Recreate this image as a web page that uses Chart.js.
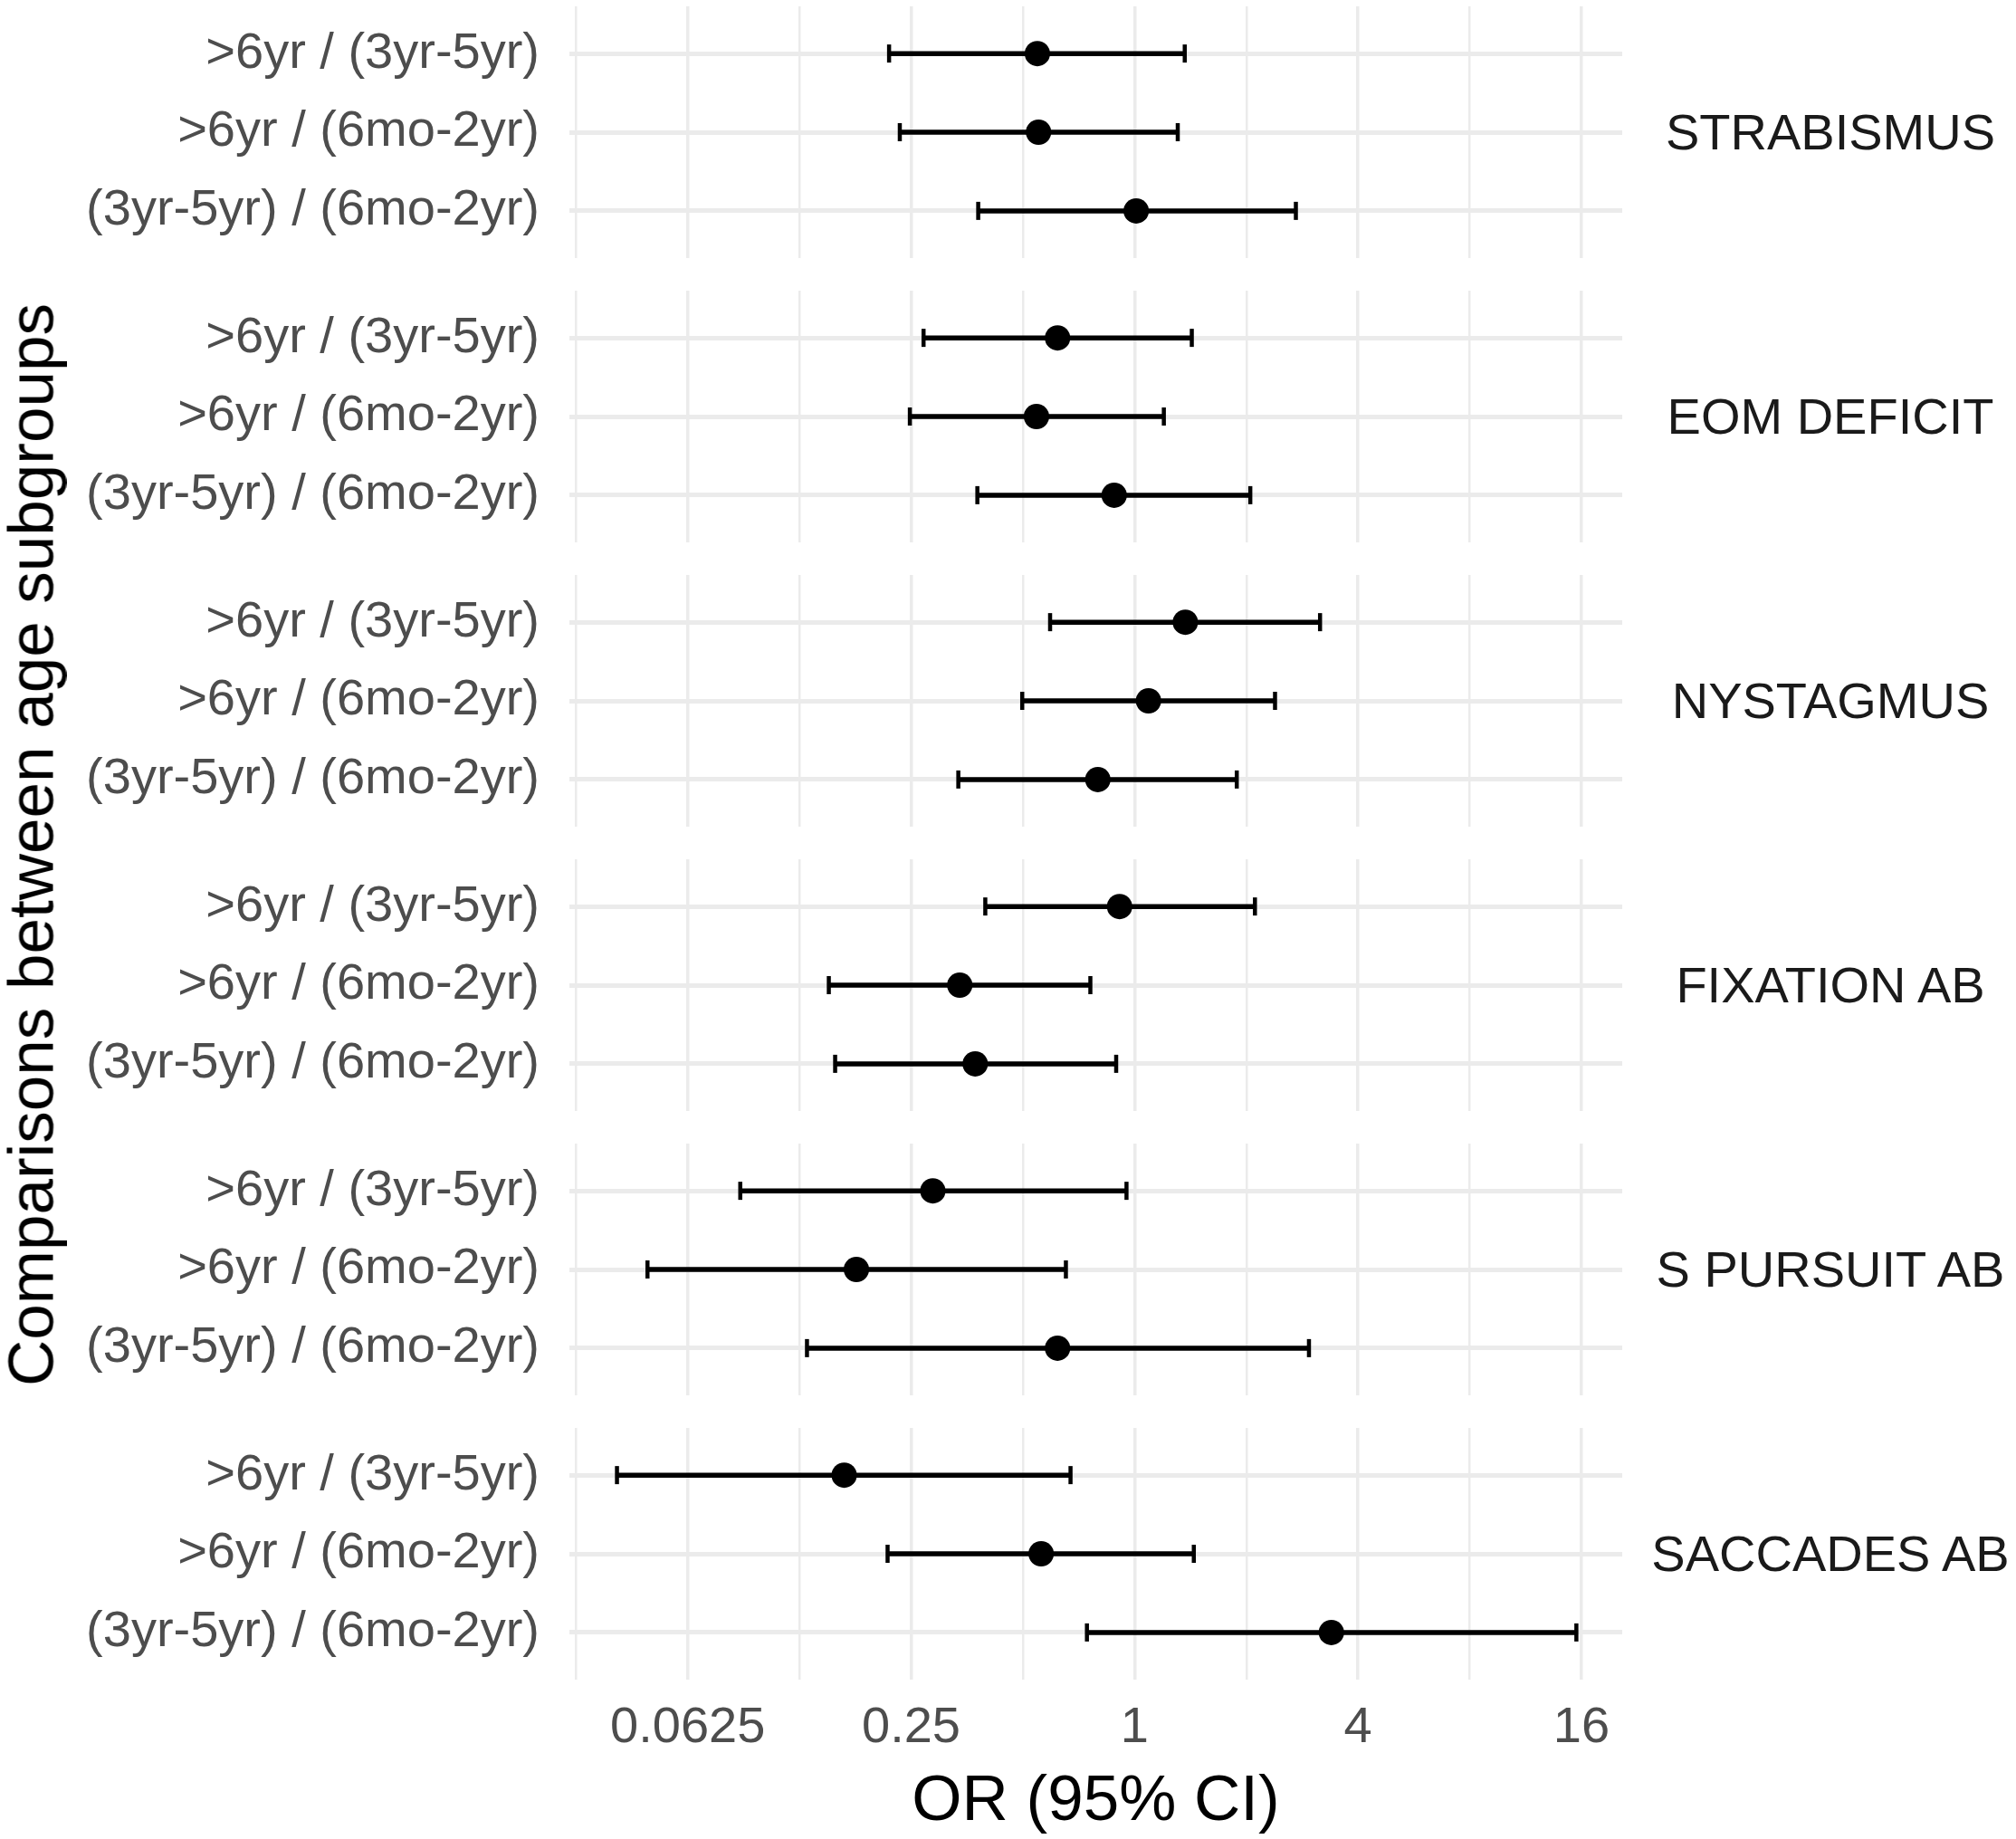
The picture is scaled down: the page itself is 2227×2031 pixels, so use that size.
<!DOCTYPE html>
<html>
<head>
<meta charset="utf-8">
<title>OR by age subgroup</title>
<script src="https://cdn.jsdelivr.net/npm/chart.js@4.4.1/dist/chart.umd.min.js"></script>
<style>
  html, body { margin: 0; padding: 0; background: #fff; }
  #page { position: relative; width: 2227px; height: 2031px; overflow: hidden;
          font-family: "Liberation Sans", Arial, sans-serif; }
  #page canvas { position: absolute; left: 0; }
  .strip { position: absolute; transform: translate(-50%, -50%); font-size: 56px;
           line-height: 1; color: #1a1a1a; white-space: nowrap; }
  .xtitle { position: absolute; transform: translate(-50%, -50%); font-size: 71px;
            line-height: 1; color: #000; white-space: nowrap; }
  .ytitle { position: absolute; transform: translate(-50%, -50%) rotate(-90deg);
            font-size: 71px; line-height: 1; color: #000; white-space: nowrap; }
</style>
</head>
<body>
<div id="page"></div>
<script>
// comparisons shown on every panel (top to bottom)
const comparisons = ['>6yr / (3yr-5yr)', '>6yr / (6mo-2yr)', '(3yr-5yr) / (6mo-2yr)'];
const outcomes = ['STRABISMUS', 'EOM DEFICIT', 'NYSTAGMUS', 'FIXATION AB', 'S PURSUIT AB', 'SACCADES AB'];

// odds ratios and 95% CI per outcome, same order as comparisons
const oddsRatio = [
  [0.547, 0.551, 1.01],
  [0.62, 0.544, 0.881],
  [1.37, 1.09, 0.796],
  [0.911, 0.338, 0.372],
  [0.286, 0.178, 0.62],
  [0.165, 0.56, 3.39]
];
const ciLow = [
  [0.218, 0.233, 0.379],
  [0.27, 0.248, 0.377],
  [0.592, 0.498, 0.335],
  [0.396, 0.150, 0.156],
  [0.0866, 0.0487, 0.131],
  [0.0403, 0.216, 0.744]
];
const ciHigh = [
  [1.365, 1.307, 2.72],
  [1.426, 1.199, 2.05],
  [3.16, 2.39, 1.885],
  [2.11, 0.76, 0.892],
  [0.951, 0.653, 2.95],
  [0.672, 1.444, 15.5]
];

const xTickValues = [0.03125, 0.0625, 0.125, 0.25, 0.5, 1, 2, 4, 8, 16];
const xTickLabels = ['', '0.0625', '', '0.25', '', '1', '', '4', '', '16'];

const W = 2227;
const plotLeft = 629, plotRight = 1792;
const panelTop = 7, panelH = 278, panelStep = 314;
const axisH = 115;
const grey = '#ebebeb';

Chart.defaults.font.family = '"Liberation Sans", Arial, sans-serif';

const page = document.getElementById('page');

// no extra room for labels that overhang the plot edges
const noPad = s => { s.paddingTop = 0; s.paddingBottom = 0; s.paddingLeft = 0; s.paddingRight = 0; };

outcomes.forEach((name, p) => {
  const isLast = p === outcomes.length - 1;
  const top = panelTop + p * panelStep;
  const canvas = document.createElement('canvas');
  canvas.width = W;
  canvas.height = panelH + (isLast ? axisH : 0);
  canvas.style.top = top + 'px';
  page.appendChild(canvas);

  const bars = comparisons.map((c, r) => ({
    type: 'line',
    data: [{ x: ciLow[p][r], y: r + 1 }, { x: ciHigh[p][r], y: r + 1 }],
    borderColor: '#000',
    borderWidth: 5.5,
    pointRadius: 0,
    clip: false,
    order: 3
  }));
  const caps = [];
  comparisons.forEach((c, r) => {
    caps.push({ x: ciLow[p][r], y: r + 1 });
    caps.push({ x: ciHigh[p][r], y: r + 1 });
  });

  new Chart(canvas, {
    type: 'scatter',
    data: {
      datasets: [
        {
          data: comparisons.map((c, r) => ({ x: oddsRatio[p][r], y: r + 1 })),
          pointRadius: 14,
          pointBackgroundColor: '#000',
          pointBorderWidth: 0,
          clip: false,
          order: 1
        },
        {
          data: caps,
          pointStyle: 'line',
          rotation: 90,
          pointRadius: 10,
          pointBorderColor: '#000',
          pointBorderWidth: 4.5,
          clip: false,
          order: 2
        },
        ...bars
      ]
    },
    options: {
      responsive: false,
      animation: false,
      devicePixelRatio: 1,
      layout: { autoPadding: false, padding: { left: 0, right: W - plotRight, top: 0, bottom: 0 } },
      plugins: { legend: { display: false }, tooltip: { enabled: false } },
      scales: {
        x: {
          type: 'logarithmic',
          min: 0.0300,
          max: 20.6,
          afterBuildTicks: s => { s.ticks = xTickValues.map(v => ({ value: v })); },
          afterFit: s => { s.height = isLast ? axisH : 0; noPad(s); },
          ticks: {
            display: isLast,
            autoSkip: false,
            maxRotation: 0,
            padding: 20,
            color: '#4d4d4d',
            font: { size: 56 },
            callback: v => xTickLabels[xTickValues.indexOf(v)] || ''
          },
          grid: {
            color: grey,
            drawTicks: false,
            lineWidth: ctx => (xTickLabels[xTickValues.indexOf(ctx.tick ? ctx.tick.value : 0)] ? 3.5 : 2.5)
          },
          border: { display: false }
        },
        y: {
          type: 'linear',
          min: 0.4,
          max: 3.6,
          reverse: true,
          afterBuildTicks: s => { s.ticks = [1, 2, 3].map(v => ({ value: v })); },
          afterFit: s => { s.width = plotLeft; noPad(s); },
          ticks: {
            autoSkip: false,
            padding: 33,
            color: '#4d4d4d',
            font: { size: 56 },
            callback: v => comparisons[v - 1]
          },
          grid: { color: grey, lineWidth: 5, drawTicks: false },
          border: { display: false }
        }
      }
    }
  });

  const strip = document.createElement('div');
  strip.className = 'strip';
  strip.textContent = name;
  strip.style.left = '2022px';
  strip.style.top = (top + panelH / 2) + 'px';
  page.appendChild(strip);
});

const xTitle = document.createElement('div');
xTitle.className = 'xtitle';
xTitle.textContent = 'OR (95% CI)';
xTitle.style.left = ((plotLeft + plotRight) / 2) + 'px';
xTitle.style.top = '1985px';
page.appendChild(xTitle);

const yTitle = document.createElement('div');
yTitle.className = 'ytitle';
yTitle.textContent = 'Comparisons between age subgroups';
yTitle.style.left = '34px';
yTitle.style.top = '933px';
page.appendChild(yTitle);
</script>
</body>
</html>
